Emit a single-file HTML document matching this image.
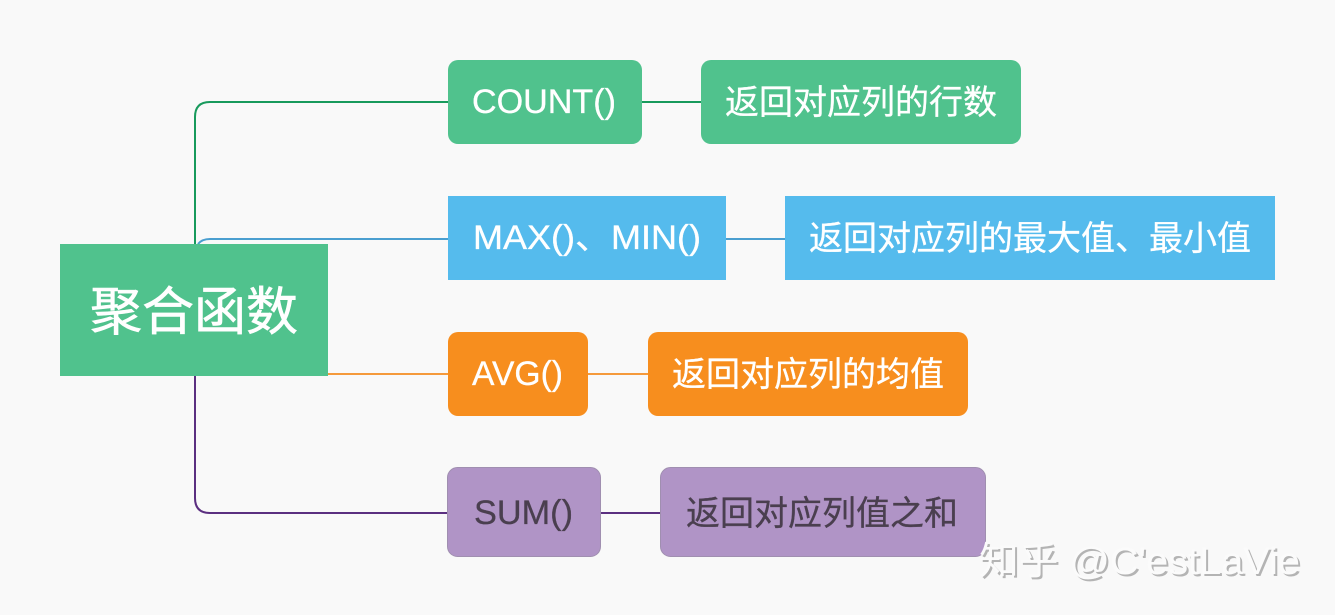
<!DOCTYPE html>
<html><head><meta charset="utf-8">
<style>
html,body{margin:0;padding:0;background:#f9f9f9;width:1335px;height:615px;overflow:hidden}
svg{display:block}
text{font-family:"Liberation Sans","Noto Sans CJK SC",sans-serif;font-size:34px;fill:#fff;stroke:#fff;stroke-width:.3px}
text.d{fill:#4a3f4f;stroke:#4a3f4f}
text.s{font-size:38px;fill:#b4b4b4;stroke:none}
text.w{font-size:38px;fill:#fbfbfb;stroke:none}
</style></head><body>
<svg width="1335" height="615" viewBox="0 0 1335 615" xmlns="http://www.w3.org/2000/svg">
<rect width="1335" height="615" fill="#f9f9f9"/>
<g fill="none" stroke-width="2">
<path d="M195 246V117Q195 102 210 102H448" stroke="#189a5c"/>
<path d="M198 244Q202 239 210 239H448" stroke="#4a9fd0"/>
<path d="M328 374H448" stroke="#f59a3c"/>
<path d="M195 376V498Q195 513 210 513H448" stroke="#5b2f80"/>
<path d="M641 102H702" stroke="#189a5c"/>
<path d="M725 239H786" stroke="#4a9fd0"/>
<path d="M587 374H649" stroke="#f59a3c"/>
<path d="M600 513H661" stroke="#5b2f80"/>
</g>
<rect x="60" y="244" width="268" height="132" fill="#50c28d"/>
<rect x="448" y="60" width="194" height="84" rx="10" fill="#50c28d"/>
<rect x="701" y="60" width="320" height="84" rx="10" fill="#50c28d"/>
<rect x="448" y="196" width="278" height="84" fill="#55bbed"/>
<rect x="785" y="196" width="490" height="84" fill="#55bbed"/>
<rect x="448" y="332" width="140" height="84" rx="10" fill="#f78e1e"/>
<rect x="648" y="332" width="320" height="84" rx="10" fill="#f78e1e"/>
<rect x="447.500" y="467.500" width="153" height="89" rx="10" fill="#b094c6" stroke="#a08fb0"/>
<rect x="660.500" y="467.500" width="325" height="89" rx="10" fill="#b094c6" stroke="#a08fb0"/>
<text x="90" y="330" style="font-size:52px;stroke-width:.6px" textLength="208" lengthAdjust="spacingAndGlyphs">聚合函数</text>
<text x="472" y="113" textLength="144" lengthAdjust="spacingAndGlyphs">COUNT()</text>
<text x="725" y="114" textLength="272" lengthAdjust="spacingAndGlyphs">返回对应列的行数</text>
<text x="473" y="249" textLength="228" lengthAdjust="spacingAndGlyphs">MAX()、MIN()</text>
<text x="809" y="250" textLength="442" lengthAdjust="spacingAndGlyphs">返回对应列的最大值、最小值</text>
<text x="472" y="385" textLength="91" lengthAdjust="spacingAndGlyphs">AVG()</text>
<text x="672" y="386" textLength="272" lengthAdjust="spacingAndGlyphs">返回对应列的均值</text>
<text class="d" x="474" y="524" textLength="99" lengthAdjust="spacingAndGlyphs">SUM()</text>
<text class="d" x="686" y="525" textLength="272" lengthAdjust="spacingAndGlyphs">返回对应列值之和</text>
<text class="s" x="981" y="576" textLength="321" lengthAdjust="spacingAndGlyphs">知乎 @C'estLaVie</text>
<text class="w" x="979" y="574" textLength="321" lengthAdjust="spacingAndGlyphs">知乎 @C'estLaVie</text>
</svg>
</body></html>
